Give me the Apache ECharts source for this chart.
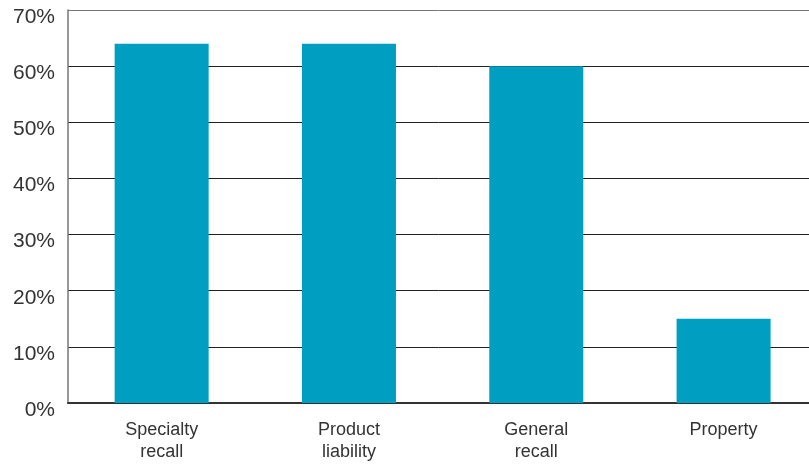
<!DOCTYPE html>
<html><head><meta charset="utf-8">
<script src="https://cdn.jsdelivr.net/npm/echarts@6/dist/echarts.min.js"></script>
<style>html,body{margin:0;padding:0;background:#fff}#c{width:809px;height:464px}</style>
</head><body><div id="c"></div>
<script>
const categories = ['Specialty\nrecall', 'Product\nliability', 'General\nrecall', 'Property'];
const values = [64, 64, 60, 15];
const yTicks = [0, 10, 20, 30, 40, 50, 60, 70];

const font = 'Liberation Sans, Arial, sans-serif';
const chart = echarts.init(document.getElementById('c'), null, {renderer: 'canvas'});
chart.setOption({
  animation: false,
  grid: {left: 68, top: 10, right: 0, bottom: 61, containLabel: false},
  xAxis: {
    type: 'value', min: -0.5, max: 3.456,
    axisLine: {show: true, onZero: false, lineStyle: {color: '#333', width: 2}},
    axisTick: {show: false},
    splitLine: {show: false},
    axisLabel: {
      customValues: categories.map((_, i) => i),
      formatter: v => categories[Math.round(v)] || '',
      color: '#333', fontFamily: font, fontSize: 18, lineHeight: 22, margin: 16
    }
  },
  yAxis: {
    type: 'value', min: yTicks[0], max: yTicks[yTicks.length - 1], interval: 10,
    axisLine: {show: true, onZero: false, lineStyle: {color: '#777', width: 1.5}},
    axisTick: {show: false},
    axisLabel: {color: '#333', fontFamily: font, fontSize: 21, lineHeight: 14, verticalAlign: 'top', margin: 13, formatter: v => v + '%'},
    splitLine: {show: true, lineStyle: {color: yTicks.map((t, i) => i === yTicks.length - 1 ? '#777' : '#222'), width: 1}}
  },
  series: [{
    type: 'bar', data: values.map((v, i) => [i, v]), barWidth: 94,
    itemStyle: {color: '#009FC2'}
  }]
});
</script></body></html>
